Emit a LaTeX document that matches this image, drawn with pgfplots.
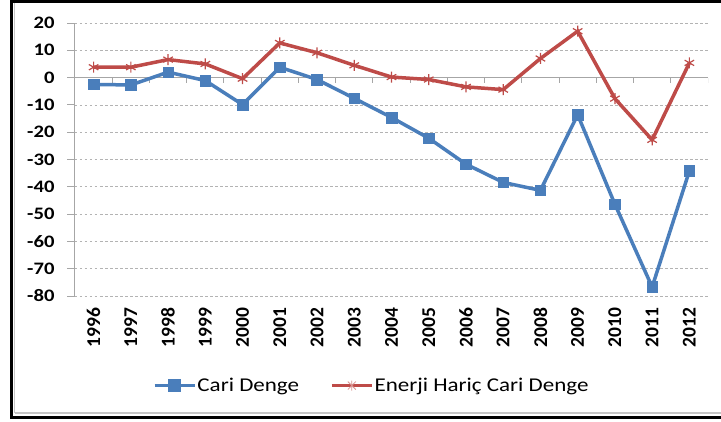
\documentclass[border=0pt]{standalone}
\usepackage{pgfplots}
\pgfplotsset{compat=1.18}
\usepackage{fontspec}
\setmainfont{Carlito}
\definecolor{cblue}{HTML}{4A7EBB}
\definecolor{cred}{HTML}{BE4B48}
\definecolor{gridc}{HTML}{A6A6A6}
\newcommand{\wdr}[1]{\scalebox{1.18}[1]{#1}}
\begin{document}
\begin{tikzpicture}[x=1pt,y=1pt]
\path[use as bounding box] (0,0) rectangle (721,421);
\fill[white] (0,0) rectangle (721,421);
\draw[gray!45, line width=1.5pt] (14.5,8) -- (721,8);
\draw[gray!45, line width=1.5pt] (14.5,8) -- (14.5,418);
\draw[black, line width=3pt] (721,419.5) -- (11.5,419.5) -- (11.5,4) -- (721,4);
\begin{axis}[
  at={(75pt,125pt)}, anchor=south west,
  scale only axis, width=633pt, height=273pt,
  xmin=1995.5, xmax=2012.5, ymin=-80, ymax=20,
  axis x line=bottom, axis y line=left,
  x axis line style={-,draw=none},
  y axis line style={-,draw=gridc,line width=1pt},
  ytick={-80,-70,...,20},
  yticklabels={\wdr{-80},\wdr{-70},\wdr{-60},\wdr{-50},\wdr{-40},\wdr{-30},\wdr{-20},\wdr{-10},\wdr{0},\wdr{10},\wdr{20}},
  xtick={1996,1997,...,2012},
  xticklabels={1996,1997,1998,1999,2000,2001,2002,2003,2004,2005,2006,2007,2008,2009,2010,2011,2012},
  x tick label style={rotate=90, anchor=east, font=\bfseries\fontsize{19.5}{20}\selectfont, xshift=-4pt},
  y tick label style={font=\bfseries\fontsize{17.5}{18}\selectfont, xshift=-9pt},
  xtick style={draw=none},
  ytick style={draw=gridc, line width=1pt},
  ytick align=outside, major tick length=8pt,
  ymajorgrids, grid style={gridc!85, line width=0.8pt, dash pattern=on 2.5pt off 2.5pt},
  legend style={at={(0.468,-0.328)}, anchor=center, draw=none, fill=none,
    font=\fontsize{19.5}{20}\selectfont, legend columns=2,
    /tikz/every even column/.append style={column sep=30pt},
    inner sep=0pt, nodes={inner sep=1pt}},
  legend cell align=left,
]
\draw[gridc, line width=1pt] (axis cs:1995.5,0) -- (axis cs:2012.5,0);
\pgfplotsinvokeforeach{1995.5,1996.5,1997.5,1998.5,1999.5,2000.5,2001.5,2002.5,2003.5,2004.5,2005.5,2006.5,2007.5,2008.5,2009.5,2010.5,2011.5,2012.5}{
  \draw[gridc, line width=1pt] (axis cs:#1,0) -- ([yshift=-5pt]axis cs:#1,0);
}
\addplot[cblue, line width=3.5pt, mark=square*, mark size=5.3pt, mark options={solid, line width=0.5pt}, legend image code/.code={\draw[cblue, line width=3.5pt] (0pt,0pt) -- (40pt,0pt); \fill[cblue] (15.5pt,-4.5pt) rectangle (24.5pt,4.5pt);}] coordinates {
(1996,-2.5) (1997,-2.7) (1998,2.0) (1999,-1.1) (2000,-9.9) (2001,3.8) (2002,-0.7) (2003,-7.6) (2004,-14.6) (2005,-22.2) (2006,-31.7) (2007,-38.4) (2008,-41.3) (2009,-13.6) (2010,-46.4) (2011,-76.7) (2012,-34.2)
};
\addlegendentry{\wdr{Cari Denge}}
\addplot[cred, line width=3.5pt, mark=asterisk, mark size=5.5pt, mark options={solid, line width=1.2pt}, legend image code/.code={\draw[cred, line width=3.5pt] (0pt,0pt) -- (40pt,0pt); \draw[cred!60, line width=0.8pt] (20pt,-5pt) -- (20pt,5pt) (16pt,-4pt) -- (24pt,4pt) (16pt,4pt) -- (24pt,-4pt);}] coordinates {
(1996,3.8) (1997,3.8) (1998,6.6) (1999,5.0) (2000,-0.4) (2001,12.7) (2002,9.1) (2003,4.5) (2004,0.2) (2005,-0.7) (2006,-3.4) (2007,-4.4) (2008,7.0) (2009,17.0) (2010,-7.7) (2011,-22.8) (2012,5.4)
};
\addlegendentry{\wdr{Enerji Hariç Cari Denge}}
\end{axis}
\end{tikzpicture}
\end{document}
